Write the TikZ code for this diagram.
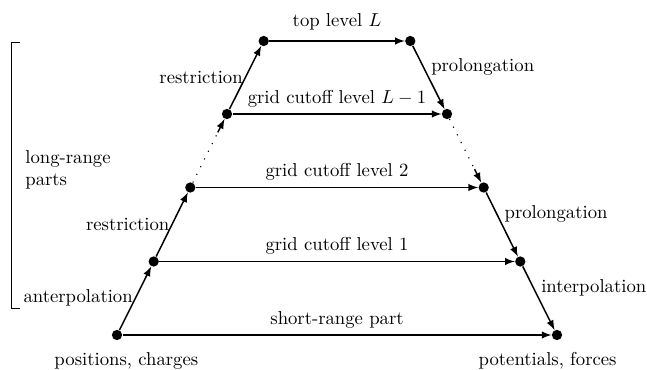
\documentclass[tikz,border=0pt]{standalone}
\usepackage{tikz}
\usetikzlibrary{calc,positioning}

\begin{document}
\begin{tikzpicture}[
    x=0.0188cm, y=-0.0188cm,
    dot/.style={circle,fill=black,inner sep=0,minimum size=5.5pt},
    flow/.style={->,>=latex,thick},
    gap/.style={semithick,loosely dotted},
    side/.style={inner sep=1pt},
    bracket/.style={thin}
]

    \useasboundingbox (0,0) rectangle (647,370);

    % left column of grid points
    \node[dot] (l0) at (117,335) {};
    \node[dot] (l1) at (153.7,261.5) {};
    \node[dot] (l2) at (190.3,187.5) {};
    \node[dot] (l3) at (227,114) {};
    \node[dot] (l4) at (263.7,41) {};

    % right column of grid points
    \node[dot] (r0) at (557,335) {};
    \node[dot] (r1) at (520.3,261.5) {};
    \node[dot] (r2) at (483.7,187.5) {};
    \node[dot] (r3) at (447,114) {};
    \node[dot] (r4) at (410.3,41) {};

    \coordinate (m2) at ($(l2)!0.75!(l3)$);
    \coordinate (m3) at ($(r3)!0.75!(r2)$);

    \draw[flow] (l0) -- node[above]{short-range part} (r0);
    \draw[flow] (l1) -- node[above]{grid cutoff level 1} (r1);
    \draw[flow] (l2) -- node[above]{grid cutoff level 2} (r2);
    \draw[flow] (l3) -- node[above]{grid cutoff level $L-1$} (r3);
    \draw[flow] (l4) -- node[above=2pt]{top level $L$} (r4);

    \draw[flow] (l0) -- node[left,side]{anterpolation} (l1);
    \draw[flow] (l1) -- node[left,side]{restriction} (l2);
    \draw[gap] (l2) -- (m2);
    \draw[flow] (m2) -- (l3);
    \draw[flow] (l3) -- node[left,side]{restriction} (l4);

    \draw[flow] (r4) -- node[above right,side]{prolongation} (r3);
    \draw[gap] (r3) -- (m3);
    \draw[flow] (m3) -- (r2);
    \draw[flow] (r2) -- node[above right,side]{prolongation} (r1);
    \draw[flow] (r1) -- node[above right,side]{interpolation} (r0);

    \node[below=3pt of l0, xshift=5pt] (src) {positions, charges};
    \node[below=3pt of r0, xshift=-5pt] (dst) {potentials, forces};

    % long-range bracket
    \draw[bracket] (20,42) -| (11,308) -- (20,308);
    \node[align=left, anchor=west, inner sep=0] (lr) at (25,170) {long-range\\parts};

\end{tikzpicture}
\end{document}
